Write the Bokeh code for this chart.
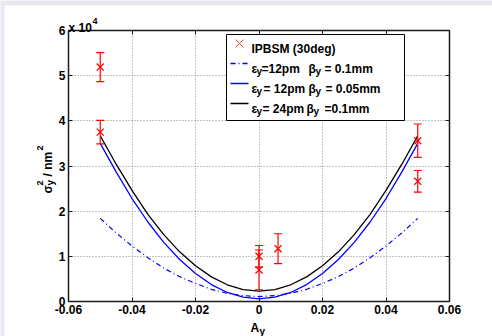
import math
from bokeh.plotting import figure
from bokeh.models import (Range1d, FixedTicker, LinearAxis, Whisker, TeeHead,
                          ColumnDataSource, Label, BoxAnnotation, Arrow)
from bokeh.embed import file_html
from bokeh.resources import INLINE

# ---------------- data (sigma_y^2 in nm^2) ----------------
curve_x = [-0.05, -0.045, -0.04, -0.035, -0.03, -0.025, -0.02, -0.015, -0.01, -0.005, 0.0,
           0.005, 0.01, 0.015, 0.02, 0.025, 0.03, 0.035, 0.04, 0.045, 0.05]
curve_24pm_01mm = [36700, 30400, 24600, 19300, 14800, 11000, 7900, 5450, 3700, 2650, 2300,
                   2650, 3700, 5450, 7900, 11000, 14800, 19300, 24600, 30400, 36700]
curve_12pm_005mm = [35000, 28700, 22800, 17600, 13100, 9300, 6200, 3750, 2000, 950, 600,
                    950, 2000, 3750, 6200, 9300, 13100, 17600, 22800, 28700, 35000]
curve_12pm_01mm = [18400, 15200, 12300, 9700, 7400, 5500, 4000, 2700, 1800, 1300, 1100,
                   1300, 1800, 2700, 4000, 5500, 7400, 9700, 12300, 15200, 18400]

meas_x = [-0.05, -0.05, 0.0, 0.0, 0.006, 0.05, 0.05]
meas_y = [51900, 37500, 10000, 7000, 11700, 35600, 26600]
meas_err = [3200, 2600, 2400, 4400, 3300, 3700, 2400]

x_ticks = [-0.06, -0.04, -0.02, 0, 0.02, 0.04, 0.06]
x_tick_labels = ["-0.06", "-0.04", "-0.02", "0", "0.02", "0.04", "0.06"]
y_ticks = [0, 10000, 20000, 30000, 40000, 50000, 60000]
y_tick_labels = ["0", "1", "2", "3", "4", "5", "6"]
x_lim = (-0.06, 0.06)
y_lim = (0, 60000)

legend_title = "IPBSM (30deg)"
legend_rows = [
    [("ε", 251, "m"), ("y", 256, "s"), ("=12pm", 261, "m"), ("β", 308, "m"), ("y", 315, "s"), ("= 0.1mm", 324, "m")],
    [("ε", 251, "m"), ("y", 256, "s"), ("= 12pm", 263, "m"), ("β", 308, "m"), ("y", 315, "s"), ("= 0.05mm", 325, "m")],
    [("ε", 251, "m"), ("y", 256, "s"), ("= 24pm", 262, "m"), ("β", 306, "m"), ("y", 313, "s"), ("=0.1mm", 324, "m")],
]

# ---------------- layout ----------------
# Bokeh's frame spans the whole canvas; the visible axes box is drawn by
# fixed-location axes at the data limits (box at page x 68..449, y 30..301).
W, H = 492, 336
BOX_L, BOX_T, BOX_R, BOX_B = 68, 30, 449, 301
kx = (BOX_R - BOX_L) / (x_lim[1] - x_lim[0])
ky = (BOX_B - BOX_T) / (y_lim[1] - y_lim[0])
x_range = Range1d(x_lim[0] - BOX_L / kx, x_lim[1] + (W - BOX_R) / kx)
y_range = Range1d(y_lim[0] - (H - BOX_B) / ky, y_lim[1] + BOX_T / ky)
FONT = "Liberation Sans"
DARK = "#1a1a1a"

p = figure(width=W, height=H, x_range=x_range, y_range=y_range,
           output_backend="svg", toolbar_location=None,
           min_border_left=0, min_border_right=0, min_border_top=0, min_border_bottom=0)
p.background_fill_color = "#e8e8f1"
p.border_fill_color = "white"
p.outline_line_color = None


def sx(px):
    return px


def sy(py):
    return H - py


# white paper area (lavender strip at top/left like the reference window)
p.add_layout(BoxAnnotation(left=sx(4), right=sx(W), top=sy(5), bottom=sy(H),
                           left_units="screen", right_units="screen",
                           top_units="screen", bottom_units="screen",
                           fill_color="white", fill_alpha=1.0, line_color=None, level="image"))

# bottom / left axes (labelled)
for ax, ticks, labels, loc, bnds in ((p.xaxis[0], x_ticks, x_tick_labels, y_lim[0], x_lim),
                                     (p.yaxis[0], y_ticks, y_tick_labels, x_lim[0], y_lim)):
    ax.fixed_location = loc
    ax.bounds = bnds
    ax.ticker = FixedTicker(ticks=ticks)
    ax.major_label_overrides = dict(zip(ticks, labels))
    ax.major_label_text_font = FONT
    ax.major_label_text_font_style = "bold"
    ax.major_label_text_font_size = "12px"
    ax.major_label_text_color = "black"
    ax.major_tick_in = 4
    ax.major_tick_out = 0
    ax.major_tick_line_color = DARK
    ax.minor_tick_line_color = None
    ax.axis_line_color = DARK
    ax.axis_line_width = 1.5
    ax.major_label_standoff = 3

# top / right axes (ticks only) complete the box
for side, ticks, loc, bnds in (("above", x_ticks, y_lim[1], x_lim), ("right", y_ticks, x_lim[1], y_lim)):
    ax = LinearAxis(fixed_location=loc, bounds=bnds, ticker=FixedTicker(ticks=ticks),
                    major_label_overrides={t: "" for t in ticks},
                    major_label_text_color=None,
                    major_tick_in=4, major_tick_out=0, major_tick_line_color=DARK,
                    minor_tick_line_color=None, axis_line_color=DARK, axis_line_width=1.5,
                    major_label_standoff=0)
    p.add_layout(ax, side)

# dotted grid inside the box
p.xgrid.ticker = FixedTicker(ticks=x_ticks)
p.ygrid.ticker = FixedTicker(ticks=y_ticks)
grid_ok = True
try:
    p.xgrid[0].bounds = x_lim
    p.ygrid[0].bounds = y_lim
    p.xgrid[0].cross_bounds = y_lim
    p.ygrid[0].cross_bounds = x_lim
except Exception:
    grid_ok = False
if grid_ok:
    for g in (p.xgrid[0], p.ygrid[0]):
        g.grid_line_color = "#8a8a8a"
        g.grid_line_dash = "1 2"
        g.grid_line_width = 1
else:
    p.xgrid.visible = False
    p.ygrid.visible = False
    p.segment(x0=x_ticks, y0=[y_lim[0]] * len(x_ticks), x1=x_ticks, y1=[y_lim[1]] * len(x_ticks),
              line_color="#8a8a8a", line_dash="1 2", line_width=1)
    p.segment(x0=[x_lim[0]] * len(y_ticks), y0=y_ticks, x1=[x_lim[1]] * len(y_ticks), y1=y_ticks,
              line_color="#8a8a8a", line_dash="1 2", line_width=1)

# curves
p.line(curve_x, curve_12pm_01mm, line_color="#0000ff", line_width=1.2, line_dash="5 3 1 3")
p.line(curve_x, curve_12pm_005mm, line_color="#0000ff", line_width=1.3)
p.line(curve_x, curve_24pm_01mm, line_color="black", line_width=1.3)

# measurements with error bars
src = ColumnDataSource(dict(x=meas_x, y=meas_y,
                            upper=[y + e for y, e in zip(meas_y, meas_err)],
                            lower=[y - e for y, e in zip(meas_y, meas_err)]))
p.add_layout(Whisker(base="x", upper="upper", lower="lower", source=src, dimension="height",
                     line_color="#ff0000", line_width=1.2, level="glyph",
                     upper_head=TeeHead(size=8, line_color="#ff0000", line_width=1.2),
                     lower_head=TeeHead(size=8, line_color="#ff0000", line_width=1.2)))
p.scatter("x", "y", source=src, marker="x", size=10, line_color="#ff0000", line_width=1.3)


def lab(text, px, py, size=12, color="black", angle=0.0):
    p.add_layout(Label(x=sx(px), y=sy(py), x_units="screen", y_units="screen", text=text,
                       text_font=FONT, text_font_style="bold", text_font_size=f"{size}px",
                       text_color=color, angle=angle, text_align="left",
                       text_baseline="alphabetic"))


def seg(x0, y0, x1, y1, color, dash="solid", width=1.3):
    p.add_layout(Arrow(x_start=sx(x0), y_start=sy(y0), x_end=sx(x1), y_end=sy(y1),
                       start_units="screen", end_units="screen", start=None, end=None,
                       line_color=color, line_dash=dash, line_width=width))


# legend box
p.add_layout(BoxAnnotation(left=sx(226), right=sx(404), top=sy(34), bottom=sy(120),
                           left_units="screen", right_units="screen",
                           top_units="screen", bottom_units="screen",
                           fill_color="white", fill_alpha=1.0,
                           line_color="black", line_width=1, line_alpha=1.0))
# legend row 1
seg(235, 39, 243, 47, "#ff4040", width=1)
seg(235, 47, 243, 39, "#ff4040", width=1)
lab(legend_title, 251, 48)
row_y = [63, 83, 103]
styles = [("#0000ff", "5 3 1 3"), ("#0000ff", "solid"), ("black", "solid")]
for (ry, (col, dash), row) in zip(row_y, styles, legend_rows):
    seg(230, ry, 248, ry, col, dash)
    for text, x, kind in row:
        if kind == "m":
            lab(text, x, ry + 5, 12)
        else:
            lab(text, x, ry + 8, 10)

# exponent marker
lab("x 10", 68, 27, 12)
lab("4", 92, 20, 9)

# x axis label  A_y
lab("A", 250, 327, 12)
lab("y", 259, 331, 10)

# y axis label  sigma_y^2 / nm^2 (rotated)
ang = math.pi / 2
lab("σ", 47, 193, 12, angle=ang)
lab("y", 50, 185, 10, angle=ang)
lab("2", 39, 185, 9, angle=ang)
lab(" / nm", 47, 176, 12, angle=ang)
lab("2", 39, 150, 9, angle=ang)

open("out.html", "w").write(file_html(p, INLINE))
